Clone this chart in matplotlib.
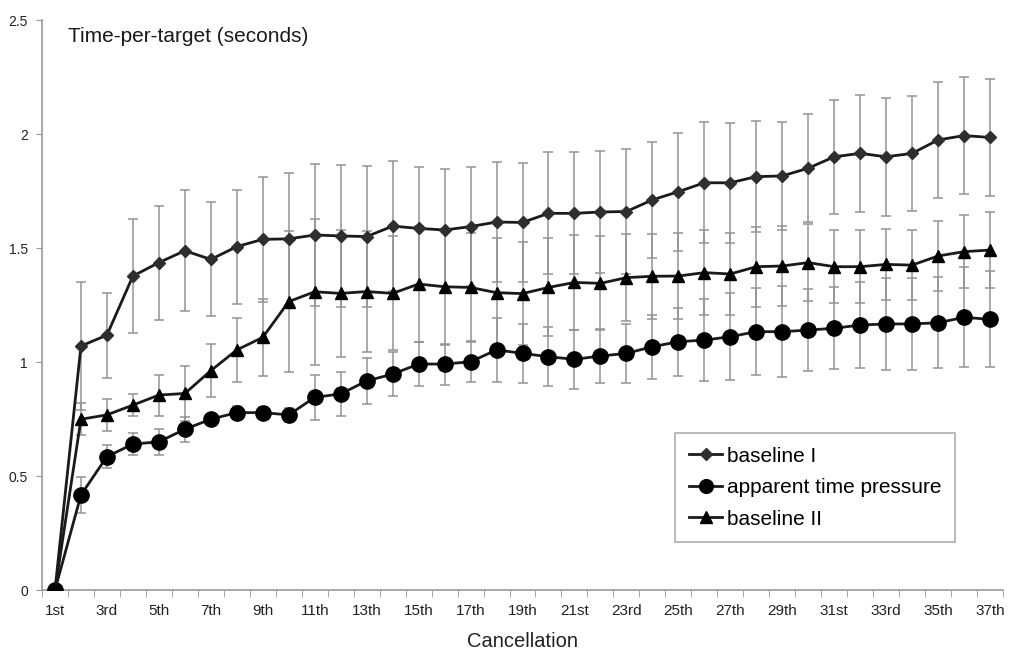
import matplotlib
matplotlib.use("Agg")
import matplotlib.pyplot as plt
import numpy as np

plt.rcParams['font.family'] = ['Liberation Sans', 'DejaVu Sans']

cancellation = list(range(1, 38))
tick_labels = ["1st", "3rd", "5th", "7th", "9th", "11th", "13th", "15th", "17th", "19th",
               "21st", "23rd", "25th", "27th", "29th", "31st", "33rd", "35th", "37th"]

baseline_1 = [0, 1.07, 1.118, 1.377, 1.436, 1.488, 1.45, 1.506, 1.538, 1.54, 1.557, 1.553,
              1.55, 1.596, 1.586, 1.579, 1.594, 1.614, 1.612, 1.652, 1.652, 1.658, 1.660,
              1.711, 1.747, 1.786, 1.786, 1.813, 1.816, 1.85, 1.90, 1.915, 1.90, 1.915,
              1.974, 1.993, 1.985]
baseline_1_err = [0, 0.28, 0.186, 0.25, 0.25, 0.265, 0.25, 0.25, 0.275, 0.29, 0.31, 0.31,
                  0.31, 0.284, 0.269, 0.266, 0.261, 0.263, 0.259, 0.268, 0.268, 0.269, 0.273,
                  0.255, 0.259, 0.265, 0.264, 0.243, 0.237, 0.236, 0.249, 0.256, 0.259, 0.253,
                  0.253, 0.258, 0.258]

apparent = [0, 0.417, 0.585, 0.64, 0.65, 0.705, 0.749, 0.778, 0.778, 0.768, 0.845, 0.86,
            0.917, 0.947, 0.991, 0.991, 1.001, 1.053, 1.038, 1.023, 1.012, 1.026, 1.038,
            1.067, 1.089, 1.096, 1.111, 1.133, 1.133, 1.14, 1.148, 1.162, 1.167, 1.167,
            1.172, 1.196, 1.187]
apparent_err = [0, 0.08, 0.05, 0.05, 0.056, 0.055, 0.025, 0.03, 0.025, 0.03, 0.1, 0.095,
                0.1, 0.095, 0.095, 0.09, 0.09, 0.14, 0.13, 0.13, 0.13, 0.12, 0.13, 0.14,
                0.15, 0.18, 0.19, 0.19, 0.2, 0.18, 0.18, 0.19, 0.2, 0.2, 0.2, 0.22, 0.21]

baseline_2 = [0, 0.749, 0.768, 0.811, 0.855, 0.862, 0.962, 1.053, 1.108, 1.265, 1.308, 1.301,
              1.309, 1.301, 1.342, 1.33, 1.327, 1.304, 1.30, 1.327, 1.349, 1.345, 1.37,
              1.376, 1.377, 1.392, 1.386, 1.418, 1.421, 1.436, 1.418, 1.418, 1.428, 1.425,
              1.465, 1.484, 1.491]
baseline_2_err = [0, 0.07, 0.07, 0.05, 0.09, 0.12, 0.115, 0.14, 0.17, 0.31, 0.32, 0.28,
                  0.265, 0.25, 0.256, 0.255, 0.24, 0.238, 0.225, 0.215, 0.21, 0.206, 0.192,
                  0.187, 0.187, 0.185, 0.18, 0.175, 0.175, 0.17, 0.161, 0.16, 0.155, 0.155,
                  0.155, 0.16, 0.165]

fig = plt.figure(figsize=(10.11, 6.54), dpi=100)
ax = fig.add_axes([42/1011, 64/654, 961/1011, 570/654])

x = np.array(cancellation)
errc = '#939393'
series = [
    (baseline_1, baseline_1_err, 'D', 6.5, '#2e2e2e', 'baseline I'),
    (apparent, apparent_err, 'o', 11, 'black', 'apparent time pressure'),
    (baseline_2, baseline_2_err, '^', 9, 'black', 'baseline II'),
]
handles = []
for vals, errs, mk, ms, col, lab in series:
    ax.errorbar(x, vals, yerr=errs, fmt='none', ecolor=errc, elinewidth=1.1,
                capsize=3.5, capthick=1.1, zorder=2)
for vals, errs, mk, ms, col, lab in series:
    h, = ax.plot(x, vals, color='#1a1a1a', lw=2, marker=mk, markersize=ms,
                 markerfacecolor=col, markeredgecolor=col, label=lab, zorder=3)
    handles.append(h)

ax.set_xlim(0.5, 37.5)
ax.set_ylim(0, 2.5)
ax.set_yticks([0, 0.5, 1, 1.5, 2, 2.5])
ax.set_yticklabels(["0", "0.5", "1", "1.5", "2", "2.5"], fontsize=10)
ax.set_xticks(x[::2])
ax.set_xticklabels(tick_labels, fontsize=11)
ax.set_xticks(np.arange(0.5, 38, 1), minor=True)
ax.tick_params(axis='x', which='major', length=0, pad=10, colors='#222222')
ax.tick_params(axis='x', which='minor', length=5, color='#999999', direction='out')
ax.tick_params(axis='y', length=4, color='#999999', direction='out', pad=6, colors='#222222')
ax.tick_params(axis='y', color='#999999')

for s in ['top', 'right']:
    ax.spines[s].set_visible(False)
for s in ['left', 'bottom']:
    ax.spines[s].set_color('#999999')
    ax.spines[s].set_linewidth(1.2)

ax.text(68/1011, 1 - 42/654, "Time-per-target (seconds)", transform=fig.transFigure,
        fontsize=15, color='#1a1a1a', va='baseline', ha='left')
ax.set_xlabel("Cancellation", fontsize=14.5, labelpad=10, color='#222222')

leg = ax.legend(handles=handles, loc='upper left', bbox_to_anchor=(0.659, 0.2754),
                borderaxespad=0, fontsize=15, frameon=True, fancybox=False,
                edgecolor='#999999', handlelength=1.6, handletextpad=0.25,
                labelspacing=0.6, borderpad=0.65, markerscale=0.9)
leg.get_frame().set_linewidth(1.2)

fig.savefig("out.png", dpi=100)
